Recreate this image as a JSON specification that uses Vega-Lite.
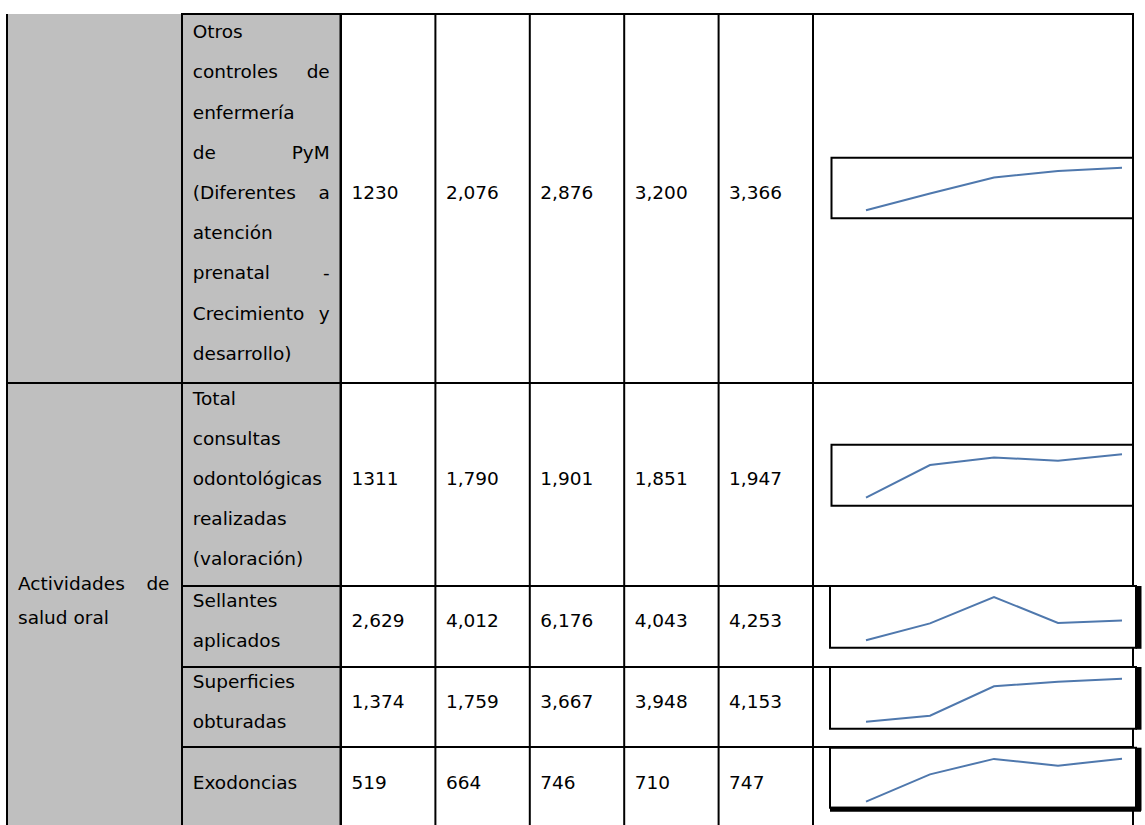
{
  "$schema": "https://vega.github.io/schema/vega-lite/v6.json",
  "background": "white",
  "padding": {"left": 6, "top": 12, "right": 0, "bottom": 0},
  "config": {
    "view": {"stroke": "black", "strokeWidth": 2},
    "concat": {"spacing": 0},
    "text": {"font": "DejaVu Sans", "fontSize": 18.5, "color": "black"}
  },
  "datasets": {
    "lineas": [
      {"fila": 1, "linea": 1, "texto": "Otros", "parte": "inicio"},
      {"fila": 1, "linea": 2, "texto": "controles", "parte": "inicio"},
      {"fila": 1, "linea": 2, "texto": "de", "parte": "fin"},
      {"fila": 1, "linea": 3, "texto": "enfermería", "parte": "inicio"},
      {"fila": 1, "linea": 4, "texto": "de", "parte": "inicio"},
      {"fila": 1, "linea": 4, "texto": "PyM", "parte": "fin"},
      {"fila": 1, "linea": 5, "texto": "(Diferentes", "parte": "inicio"},
      {"fila": 1, "linea": 5, "texto": "a", "parte": "fin"},
      {"fila": 1, "linea": 6, "texto": "atención", "parte": "inicio"},
      {"fila": 1, "linea": 7, "texto": "prenatal", "parte": "inicio"},
      {"fila": 1, "linea": 7, "texto": "-", "parte": "fin"},
      {"fila": 1, "linea": 8, "texto": "Crecimiento", "parte": "inicio"},
      {"fila": 1, "linea": 8, "texto": "y", "parte": "fin"},
      {"fila": 1, "linea": 9, "texto": "desarrollo)", "parte": "inicio"},
      {"fila": 2, "linea": 1, "texto": "Total", "parte": "inicio"},
      {"fila": 2, "linea": 2, "texto": "consultas", "parte": "inicio"},
      {"fila": 2, "linea": 3, "texto": "odontológicas", "parte": "inicio"},
      {"fila": 2, "linea": 4, "texto": "realizadas", "parte": "inicio"},
      {"fila": 2, "linea": 5, "texto": "(valoración)", "parte": "inicio"},
      {"fila": 3, "linea": 1, "texto": "Sellantes", "parte": "inicio"},
      {"fila": 3, "linea": 2, "texto": "aplicados", "parte": "inicio"},
      {"fila": 4, "linea": 1, "texto": "Superficies", "parte": "inicio"},
      {"fila": 4, "linea": 2, "texto": "obturadas", "parte": "inicio"},
      {"fila": 5, "linea": 1, "texto": "Exodoncias", "parte": "inicio"}
    ],
    "valores": [
      {"fila": 1, "periodo": 1, "valor": 1230, "etiqueta": "1230"},
      {"fila": 1, "periodo": 2, "valor": 2076, "etiqueta": "2,076"},
      {"fila": 1, "periodo": 3, "valor": 2876, "etiqueta": "2,876"},
      {"fila": 1, "periodo": 4, "valor": 3200, "etiqueta": "3,200"},
      {"fila": 1, "periodo": 5, "valor": 3366, "etiqueta": "3,366"},
      {"fila": 2, "periodo": 1, "valor": 1311, "etiqueta": "1311"},
      {"fila": 2, "periodo": 2, "valor": 1790, "etiqueta": "1,790"},
      {"fila": 2, "periodo": 3, "valor": 1901, "etiqueta": "1,901"},
      {"fila": 2, "periodo": 4, "valor": 1851, "etiqueta": "1,851"},
      {"fila": 2, "periodo": 5, "valor": 1947, "etiqueta": "1,947"},
      {"fila": 3, "periodo": 1, "valor": 2629, "etiqueta": "2,629"},
      {"fila": 3, "periodo": 2, "valor": 4012, "etiqueta": "4,012"},
      {"fila": 3, "periodo": 3, "valor": 6176, "etiqueta": "6,176"},
      {"fila": 3, "periodo": 4, "valor": 4043, "etiqueta": "4,043"},
      {"fila": 3, "periodo": 5, "valor": 4253, "etiqueta": "4,253"},
      {"fila": 4, "periodo": 1, "valor": 1374, "etiqueta": "1,374"},
      {"fila": 4, "periodo": 2, "valor": 1759, "etiqueta": "1,759"},
      {"fila": 4, "periodo": 3, "valor": 3667, "etiqueta": "3,667"},
      {"fila": 4, "periodo": 4, "valor": 3948, "etiqueta": "3,948"},
      {"fila": 4, "periodo": 5, "valor": 4153, "etiqueta": "4,153"},
      {"fila": 5, "periodo": 1, "valor": 519, "etiqueta": "519"},
      {"fila": 5, "periodo": 2, "valor": 664, "etiqueta": "664"},
      {"fila": 5, "periodo": 3, "valor": 746, "etiqueta": "746"},
      {"fila": 5, "periodo": 4, "valor": 710, "etiqueta": "710"},
      {"fila": 5, "periodo": 5, "valor": 747, "etiqueta": "747"}
    ]
  },
  "columns": 4,
  "spacing": 0,
  "bounds": "flush",
  "concat": [
    {
      "width": 175, "height": 369,
      "view": {"fill": "#bfbfbf", "stroke": "black", "strokeWidth": 2, "strokeDash": [0, 175, 913]},
      "data": {"values": [{"grupo": ""}]},
      "mark": {"type": "text"},
      "encoding": {"text": {"field": "grupo"}}
    },
    {
      "width": 158.5, "height": 369,
      "view": {"fill": "#bfbfbf"},
      "data": {"name": "lineas"},
      "transform": [{"filter": "datum.fila == 1"}],
      "encoding": {
        "y": {"field": "linea", "type": "ordinal", "axis": null, "scale": {"type": "band", "paddingInner": 0, "paddingOuter": 0.09}},
        "text": {"field": "texto"}
      },
      "layer": [
        {"transform": [{"filter": "datum.parte == 'inicio'"}], "mark": {"type": "text", "align": "left", "dx": -68.5, "dy": -5.5}},
        {"transform": [{"filter": "datum.parte == 'fin'"}], "mark": {"type": "text", "align": "right", "dx": 68.5, "dy": -5.5}}
      ]
    },
    {
      "width": 472, "height": 369,
      "data": {"name": "valores"},
      "transform": [{"filter": "datum.fila == 1"}],
      "encoding": {
        "x": {"field": "periodo", "type": "ordinal", "axis": null, "bandPosition": 0, "scale": {"type": "band", "paddingInner": 0, "paddingOuter": 0}}
      },
      "layer": [
        {"mark": {"type": "rule", "color": "black", "strokeWidth": 2}},
        {"mark": {"type": "text", "align": "left", "dx": 10.5, "dy": -6}, "encoding": {"text": {"field": "etiqueta"}}}
      ]
    },
    {
      "width": 320, "height": 369,
      "data": {"name": "valores"},
      "transform": [{"filter": "datum.fila == 1"}],
      "encoding": {
        "x": {"field": "periodo", "type": "quantitative", "axis": null, "scale": {"domain": [1, 5], "range": [53, 309]}},
        "y": {"field": "valor", "type": "quantitative", "axis": null, "scale": {"zero": false, "nice": false, "range": [196.3, 153.7]}}
      },
      "layer": [
        {
          "mark": {"type": "rect", "fill": "white", "stroke": "black", "strokeWidth": 2, "xOffset": -34.5, "x2Offset": 11, "yOffset": 8, "y2Offset": -10},
          "encoding": {
            "x": {"aggregate": "min", "field": "periodo", "type": "quantitative"},
            "x2": {"aggregate": "max", "field": "periodo"},
            "y": {"aggregate": "min", "field": "valor", "type": "quantitative"},
            "y2": {"aggregate": "max", "field": "valor"}
          }
        },
        {"mark": {"type": "line", "color": "#4f78ad", "strokeWidth": 2}}
      ]
    },
    {
      "width": 175, "height": 203,
      "view": {"fill": "#bfbfbf", "stroke": "black", "strokeWidth": 2, "strokeDash": [175, 378, 203]},
      "data": {"values": [{"grupo": ""}]},
      "mark": {"type": "text"},
      "encoding": {"text": {"field": "grupo"}}
    },
    {
      "width": 158.5, "height": 203,
      "view": {"fill": "#bfbfbf"},
      "data": {"name": "lineas"},
      "transform": [{"filter": "datum.fila == 2"}],
      "encoding": {
        "y": {"field": "linea", "type": "ordinal", "axis": null, "scale": {"type": "band", "paddingInner": 0, "paddingOuter": 0.04}},
        "text": {"field": "texto"}
      },
      "layer": [
        {"mark": {"type": "text", "align": "left", "dx": -68.5, "dy": -5.5}}
      ]
    },
    {
      "width": 472, "height": 203,
      "data": {"name": "valores"},
      "transform": [{"filter": "datum.fila == 2"}],
      "encoding": {
        "x": {"field": "periodo", "type": "ordinal", "axis": null, "bandPosition": 0, "scale": {"type": "band", "paddingInner": 0, "paddingOuter": 0}}
      },
      "layer": [
        {"mark": {"type": "rule", "color": "black", "strokeWidth": 2}},
        {"mark": {"type": "text", "align": "left", "dx": 10.5, "dy": -5.5}, "encoding": {"text": {"field": "etiqueta"}}}
      ]
    },
    {
      "width": 320, "height": 203,
      "data": {"name": "valores"},
      "transform": [{"filter": "datum.fila == 2"}],
      "encoding": {
        "x": {"field": "periodo", "type": "quantitative", "axis": null, "scale": {"domain": [1, 5], "range": [53, 309]}},
        "y": {"field": "valor", "type": "quantitative", "axis": null, "scale": {"zero": false, "nice": false, "range": [114.7, 71.3]}}
      },
      "layer": [
        {
          "mark": {"type": "rect", "fill": "white", "stroke": "black", "strokeWidth": 2, "xOffset": -34.5, "x2Offset": 11, "yOffset": 8, "y2Offset": -9.5},
          "encoding": {
            "x": {"aggregate": "min", "field": "periodo", "type": "quantitative"},
            "x2": {"aggregate": "max", "field": "periodo"},
            "y": {"aggregate": "min", "field": "valor", "type": "quantitative"},
            "y2": {"aggregate": "max", "field": "valor"}
          }
        },
        {"mark": {"type": "line", "color": "#4f78ad", "strokeWidth": 2}}
      ]
    },
    {
      "width": 175, "height": 81,
      "view": {"fill": "#bfbfbf", "stroke": "black", "strokeWidth": 2, "strokeDash": [0, 431, 81]},
      "data": {"values": [
        {"linea": 1, "texto": "Actividades", "parte": "inicio"},
        {"linea": 1, "texto": "de", "parte": "fin"},
        {"linea": 2, "texto": "salud oral", "parte": "inicio"}
      ]},
      "encoding": {"text": {"field": "texto"}},
      "layer": [
        {"transform": [{"filter": "datum.linea == 1 && datum.parte == 'inicio'"}], "mark": {"type": "text", "align": "left", "dx": -76.5, "dy": -42.5}},
        {"transform": [{"filter": "datum.linea == 1 && datum.parte == 'fin'"}], "mark": {"type": "text", "align": "right", "dx": 75, "dy": -42.5}},
        {"transform": [{"filter": "datum.linea == 2"}], "mark": {"type": "text", "align": "left", "dx": -76.5, "dy": -8.5}}
      ]
    },
    {
      "width": 158.5, "height": 81,
      "view": {"fill": "#bfbfbf"},
      "data": {"name": "lineas"},
      "transform": [{"filter": "datum.fila == 3"}],
      "encoding": {
        "y": {"field": "linea", "type": "ordinal", "axis": null, "scale": {"type": "band", "paddingInner": 0, "paddingOuter": 0}},
        "text": {"field": "texto"}
      },
      "layer": [
        {"mark": {"type": "text", "align": "left", "dx": -68.5, "dy": -5.5}}
      ]
    },
    {
      "width": 472, "height": 81,
      "data": {"name": "valores"},
      "transform": [{"filter": "datum.fila == 3"}],
      "encoding": {
        "x": {"field": "periodo", "type": "ordinal", "axis": null, "bandPosition": 0, "scale": {"type": "band", "paddingInner": 0, "paddingOuter": 0}}
      },
      "layer": [
        {"mark": {"type": "rule", "color": "black", "strokeWidth": 2}},
        {"mark": {"type": "text", "align": "left", "dx": 10.5, "dy": -5.5}, "encoding": {"text": {"field": "etiqueta"}}}
      ]
    },
    {
      "width": 320, "height": 81,
      "data": {"name": "valores"},
      "transform": [{"filter": "datum.fila == 3"}],
      "encoding": {
        "x": {"field": "periodo", "type": "quantitative", "axis": null, "scale": {"domain": [1, 5], "range": [53, 309]}},
        "y": {"field": "valor", "type": "quantitative", "axis": null, "scale": {"zero": false, "nice": false, "range": [54.3, 11]}}
      },
      "layer": [
        {
          "mark": {"type": "rect", "fill": "white", "stroke": "black", "strokeWidth": 2, "xOffset": -36, "x2Offset": 14, "yOffset": 7.5, "y2Offset": -11},
          "encoding": {
            "x": {"aggregate": "min", "field": "periodo", "type": "quantitative"},
            "x2": {"aggregate": "max", "field": "periodo"},
            "y": {"aggregate": "min", "field": "valor", "type": "quantitative"},
            "y2": {"aggregate": "max", "field": "valor"}
          }
        },
        {
          "mark": {"type": "rule", "color": "black", "strokeWidth": 6, "xOffset": 16.5, "yOffset": 8.5, "y2Offset": -11},
          "encoding": {
            "x": {"aggregate": "max", "field": "periodo", "type": "quantitative"},
            "y": {"aggregate": "min", "field": "valor", "type": "quantitative"},
            "y2": {"aggregate": "max", "field": "valor"}
          }
        },
        {"mark": {"type": "line", "color": "#4f78ad", "strokeWidth": 2}}
      ]
    },
    {
      "width": 175, "height": 80,
      "view": {"fill": "#bfbfbf", "stroke": "black", "strokeWidth": 2, "strokeDash": [0, 430, 80]},
      "data": {"values": [{"grupo": ""}]},
      "mark": {"type": "text"},
      "encoding": {"text": {"field": "grupo"}}
    },
    {
      "width": 158.5, "height": 80,
      "view": {"fill": "#bfbfbf"},
      "data": {"name": "lineas"},
      "transform": [{"filter": "datum.fila == 4"}],
      "encoding": {
        "y": {"field": "linea", "type": "ordinal", "axis": null, "scale": {"type": "band", "paddingInner": 0, "paddingOuter": 0}},
        "text": {"field": "texto"}
      },
      "layer": [
        {"mark": {"type": "text", "align": "left", "dx": -68.5, "dy": -5}}
      ]
    },
    {
      "width": 472, "height": 80,
      "data": {"name": "valores"},
      "transform": [{"filter": "datum.fila == 4"}],
      "encoding": {
        "x": {"field": "periodo", "type": "ordinal", "axis": null, "bandPosition": 0, "scale": {"type": "band", "paddingInner": 0, "paddingOuter": 0}}
      },
      "layer": [
        {"mark": {"type": "rule", "color": "black", "strokeWidth": 2}},
        {"mark": {"type": "text", "align": "left", "dx": 10.5, "dy": -5}, "encoding": {"text": {"field": "etiqueta"}}}
      ]
    },
    {
      "width": 320, "height": 80,
      "data": {"name": "valores"},
      "transform": [{"filter": "datum.fila == 4"}],
      "encoding": {
        "x": {"field": "periodo", "type": "quantitative", "axis": null, "scale": {"domain": [1, 5], "range": [53, 309]}},
        "y": {"field": "valor", "type": "quantitative", "axis": null, "scale": {"zero": false, "nice": false, "range": [54.7, 11.7]}}
      },
      "layer": [
        {
          "mark": {"type": "rect", "fill": "white", "stroke": "black", "strokeWidth": 2, "xOffset": -36, "x2Offset": 14, "yOffset": 7, "y2Offset": -11.7},
          "encoding": {
            "x": {"aggregate": "min", "field": "periodo", "type": "quantitative"},
            "x2": {"aggregate": "max", "field": "periodo"},
            "y": {"aggregate": "min", "field": "valor", "type": "quantitative"},
            "y2": {"aggregate": "max", "field": "valor"}
          }
        },
        {
          "mark": {"type": "rule", "color": "black", "strokeWidth": 6, "xOffset": 16.5, "yOffset": 8, "y2Offset": -11.7},
          "encoding": {
            "x": {"aggregate": "max", "field": "periodo", "type": "quantitative"},
            "y": {"aggregate": "min", "field": "valor", "type": "quantitative"},
            "y2": {"aggregate": "max", "field": "valor"}
          }
        },
        {"mark": {"type": "line", "color": "#4f78ad", "strokeWidth": 2}}
      ]
    },
    {
      "width": 175, "height": 80,
      "view": {"fill": "#bfbfbf", "stroke": "black", "strokeWidth": 2, "strokeDash": [0, 430, 80]},
      "data": {"values": [{"grupo": ""}]},
      "mark": {"type": "text"},
      "encoding": {"text": {"field": "grupo"}}
    },
    {
      "width": 158.5, "height": 80,
      "view": {"fill": "#bfbfbf"},
      "data": {"name": "lineas"},
      "transform": [{"filter": "datum.fila == 5"}],
      "encoding": {
        "y": {"field": "linea", "type": "ordinal", "axis": null, "scale": {"type": "band", "paddingInner": 0, "paddingOuter": 0}},
        "text": {"field": "texto"}
      },
      "layer": [
        {"mark": {"type": "text", "align": "left", "dx": -68.5, "dy": -4}}
      ]
    },
    {
      "width": 472, "height": 80,
      "data": {"name": "valores"},
      "transform": [{"filter": "datum.fila == 5"}],
      "encoding": {
        "x": {"field": "periodo", "type": "ordinal", "axis": null, "bandPosition": 0, "scale": {"type": "band", "paddingInner": 0, "paddingOuter": 0}}
      },
      "layer": [
        {"mark": {"type": "rule", "color": "black", "strokeWidth": 2}},
        {"mark": {"type": "text", "align": "left", "dx": 10.5, "dy": -4}, "encoding": {"text": {"field": "etiqueta"}}}
      ]
    },
    {
      "width": 320, "height": 80,
      "data": {"name": "valores"},
      "transform": [{"filter": "datum.fila == 5"}],
      "encoding": {
        "x": {"field": "periodo", "type": "quantitative", "axis": null, "scale": {"domain": [1, 5], "range": [53, 309]}},
        "y": {"field": "valor", "type": "quantitative", "axis": null, "scale": {"zero": false, "nice": false, "range": [54.7, 11.7]}}
      },
      "layer": [
        {
          "mark": {"type": "rect", "fill": "white", "stroke": "black", "strokeWidth": 2, "xOffset": -36, "x2Offset": 14, "yOffset": 6, "y2Offset": -11},
          "encoding": {
            "x": {"aggregate": "min", "field": "periodo", "type": "quantitative"},
            "x2": {"aggregate": "max", "field": "periodo"},
            "y": {"aggregate": "min", "field": "valor", "type": "quantitative"},
            "y2": {"aggregate": "max", "field": "valor"}
          }
        },
        {
          "mark": {"type": "rule", "color": "black", "strokeWidth": 6, "xOffset": 16.5, "yOffset": 9, "y2Offset": -11},
          "encoding": {
            "x": {"aggregate": "max", "field": "periodo", "type": "quantitative"},
            "y": {"aggregate": "min", "field": "valor", "type": "quantitative"},
            "y2": {"aggregate": "max", "field": "valor"}
          }
        },
        {
          "mark": {"type": "rule", "color": "black", "strokeWidth": 5, "xOffset": -36, "x2Offset": 19, "yOffset": 7.5},
          "encoding": {
            "x": {"aggregate": "min", "field": "periodo", "type": "quantitative"},
            "x2": {"aggregate": "max", "field": "periodo"},
            "y": {"aggregate": "min", "field": "valor", "type": "quantitative"}
          }
        },
        {"mark": {"type": "line", "color": "#4f78ad", "strokeWidth": 2}}
      ]
    }
  ]
}
